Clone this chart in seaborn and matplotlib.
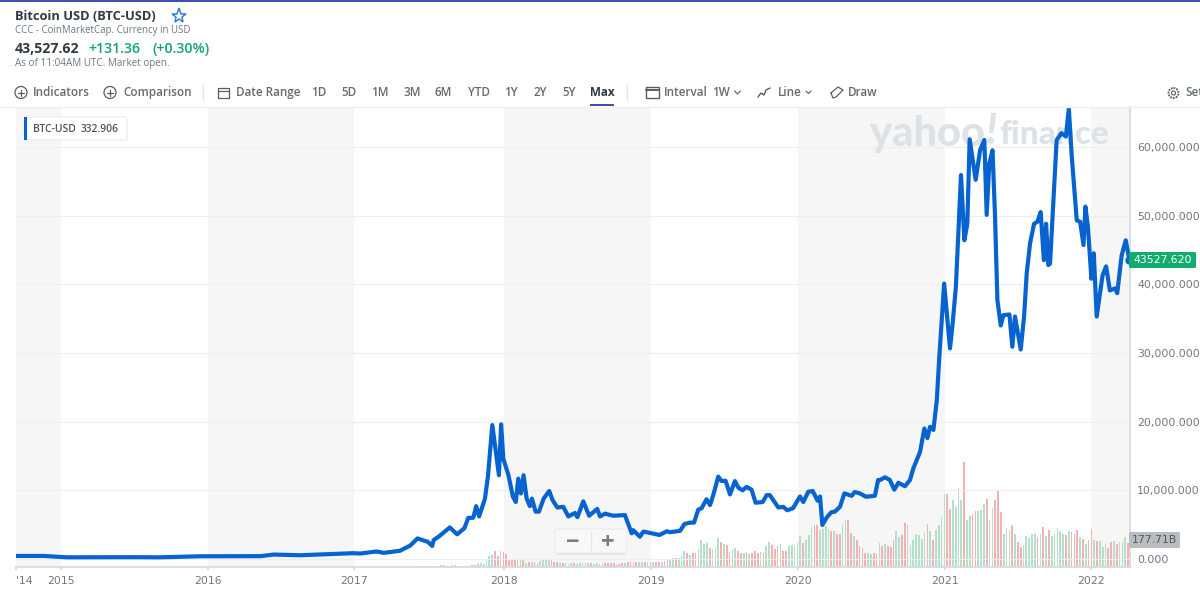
import numpy as np
import pandas as pd
import matplotlib.pyplot as plt
from matplotlib.patches import Circle, FancyBboxPatch, Rectangle
import seaborn as sns

# price, x in decimal years, y in thousands of USD
price_year = [2014.69, 2014.88, 2015.04, 2015.49, 2015.67, 2015.95, 2016.36, 2016.45, 2016.63, 2016.99,
              2017.04, 2017.15, 2017.20, 2017.31, 2017.38, 2017.43, 2017.50, 2017.53, 2017.54, 2017.58,
              2017.65, 2017.70, 2017.75, 2017.776, 2017.81, 2017.83, 2017.85, 2017.89, 2017.91, 2017.94,
              2017.985, 2018.0, 2018.015, 2018.05, 2018.08, 2018.10, 2018.117, 2018.135, 2018.153, 2018.174,
              2018.196, 2018.21, 2018.235, 2018.258, 2018.29, 2018.328, 2018.35, 2018.383, 2018.424, 2018.458,
              2018.503, 2018.52, 2018.56, 2018.60, 2018.655, 2018.674, 2018.708, 2018.765, 2018.844, 2018.89,
              2018.90, 2018.946, 2018.97, 2019.08, 2019.13, 2019.15, 2019.22, 2019.25, 2019.287, 2019.315,
              2019.344, 2019.367, 2019.40, 2019.424, 2019.446, 2019.48, 2019.503, 2019.53, 2019.56, 2019.594,
              2019.617, 2019.646, 2019.673, 2019.707, 2019.735, 2019.783, 2019.81, 2019.832, 2019.89, 2019.923,
              2019.95, 2019.99, 2020.037, 2020.06, 2020.094, 2020.124, 2020.157, 2020.174, 2020.19, 2020.22,
              2020.25, 2020.275, 2020.31, 2020.34, 2020.39, 2020.41, 2020.446, 2020.487, 2020.548, 2020.57,
              2020.583, 2020.617, 2020.65, 2020.68, 2020.708, 2020.753, 2020.787, 2020.81, 2020.856, 2020.885,
              2020.906, 2020.924, 2020.947, 2020.97, 2020.987, 2021.02, 2021.06, 2021.078, 2021.10, 2021.135,
              2021.158, 2021.178, 2021.194, 2021.235, 2021.265, 2021.294, 2021.31, 2021.328, 2021.35, 2021.367,
              2021.383, 2021.406, 2021.424, 2021.465, 2021.485, 2021.503, 2021.542, 2021.565, 2021.583, 2021.606,
              2021.633, 2021.656, 2021.678, 2021.70, 2021.715, 2021.73, 2021.742, 2021.765, 2021.787, 2021.82,
              2021.85, 2021.87, 2021.89, 2021.924, 2021.947, 2021.97, 2021.983, 2022.0, 2022.024, 2022.04,
              2022.06, 2022.10, 2022.124, 2022.15, 2022.185, 2022.20, 2022.23, 2022.258, 2022.283]
price_k = [0.45, 0.45, 0.25, 0.27, 0.25, 0.40, 0.42, 0.65, 0.55, 0.85,
           0.80, 1.10, 0.90, 1.20, 1.95, 3.00, 2.50, 1.90, 2.75, 3.35,
           4.60, 3.60, 4.50, 6.00, 6.00, 7.70, 6.20, 8.80, 12.0, 19.5,
           12.2, 19.6, 14.6, 12.2, 9.10, 8.30, 11.7, 9.55, 12.2, 8.80,
           7.70, 8.80, 6.90, 6.90, 8.80, 9.90, 8.60, 7.50, 7.60, 6.20,
           6.70, 6.10, 8.40, 6.30, 7.30, 6.20, 6.60, 6.30, 6.40, 3.75,
           4.20, 3.25, 4.00, 3.50, 4.05, 3.90, 4.10, 5.10, 5.30, 5.30,
           7.20, 7.40, 8.70, 7.85, 9.30, 12.0, 11.35, 11.4, 9.40, 11.35,
           10.4, 10.0, 10.5, 10.1, 8.20, 8.30, 9.30, 9.30, 7.50, 7.60,
           7.10, 7.40, 9.10, 8.30, 9.80, 9.90, 8.50, 9.10, 4.95, 6.06,
           6.80, 6.90, 7.60, 9.55, 9.20, 9.75, 9.55, 9.07, 9.20, 11.5,
           11.5, 11.9, 11.5, 10.1, 11.1, 10.6, 11.5, 13.2, 15.6, 19.0,
           17.6, 19.25, 18.8, 23.1, 29.4, 40.1, 30.65, 34.3, 39.6, 55.9,
           46.4, 48.8, 61.1, 55.2, 59.5, 61.0, 50.1, 57.6, 59.5, 49.8,
           37.7, 34.0, 35.5, 35.6, 30.9, 35.3, 30.5, 35.3, 41.6, 46.0,
           48.8, 49.1, 50.5, 43.5, 48.8, 42.8, 43.0, 52.2, 61.0, 62.0,
           61.5, 65.6, 58.6, 49.3, 49.1, 45.7, 51.3, 48.4, 40.8, 44.5,
           35.3, 41.3, 42.6, 39.1, 39.4, 38.7, 44.2, 46.4, 43.5]

# weekly volume in billions and direction of each week, r = down, g = up
volume_b = [6, 5, 7, 5, 8, 6, 7,
            12, 15, 10, 10, 12, 12, 5, 5, 5, 10,
            10, 12, 15, 25, 30, 25, 49, 84, 89, 116,
            84, 116, 109, 99, 62, 57, 62, 49, 52, 49,
            32, 40, 35, 35, 30, 44, 49, 57, 54, 49,
            40, 35, 32, 30, 30, 25, 27, 30, 25, 32,
            32, 30, 32, 27, 25, 30, 20, 25, 32, 30,
            27, 27, 25, 25, 27, 32, 35, 35, 40, 37,
            40, 35, 35, 35, 35, 35, 35, 35, 35, 44,
            54, 59, 64, 69, 64, 79, 116, 104, 86, 101,
            104, 136, 203, 168, 178, 143, 131, 138, 217, 188,
            173, 165, 111, 124, 143, 116, 106, 106, 111, 99,
            101, 121, 104, 111, 101, 156, 188, 163, 136, 156,
            173, 119, 116, 158, 163, 156, 180, 230, 178, 203,
            235, 296, 311, 311, 277, 284, 301, 284, 267, 264,
            247, 247, 316, 351, 351, 254, 230, 198, 156, 141,
            106, 104, 99, 106, 99, 180,
            156, 168, 158, 148, 203, 264, 222, 235, 329, 309,
            165, 203, 242, 237, 210, 259, 316, 264, 198, 272,
            309, 371, 543, 543, 432, 499, 445, 585, 499, 778,
            346, 378, 390, 412, 412, 420, 464, 504, 346, 437,
            494, 561, 405, 247, 291, 277, 309, 242, 183, 148,
            161, 230, 215, 245, 245, 222, 247, 296, 230, 272,
            230, 247, 291, 264, 247, 235, 264, 257, 242, 272,
            222, 210, 173, 198, 284, 203, 190, 190, 148, 173,
            141, 185, 190, 173, 183, 185, 222, 178]
volume_dir = list("ggrgrgg"
                  "ggggrrgggg" "ggrrgggggr" "rgrrrrrggr" "grgrrggggr" "rrgrgggrgg"
                  "gggrggrgrr" "rrgrrgrrgr" "ggrgrgrrgr" "rggrgggrgr" "rggggrgggr"
                  "grrggrrgrg" "rrrgrggrrr" "grrgggggrg" "ggrrggggrg" "rrggrrgrrr" "rggrrg"
                  "rgrrrggrrg" "ggggggrgrg" "gggrrggggr" "ggrrgggrgg" "rrrgggrgrr"
                  "gggggrgrgr" "gggggrgrrr" "grgrrgrggg" "rrgrgggr")
# tick places on the time axis, the years after 2017 sit slightly wide of an even step
year_ticks = [2015, 2016, 2017, 2018.02, 2019.02, 2020.025, 2021.024, 2022.02]
year_labels = ["2015", "2016", "2017", "2018", "2019", "2020", "2021", "2022"]
shaded_years = [(2014.69, 2015), (2016, 2017), (2018.02, 2019.02), (2020.025, 2021.024), (2022.02, 2022.287)]
price_ticks = [0, 10000, 20000, 30000, 40000, 50000, 60000]
ranges = [("1D", 319), ("5D", 349), ("1M", 380), ("3M", 412), ("6M", 443), ("YTD", 479), ("1Y", 511), ("2Y", 540), ("5Y", 569)]

volume_year = 2022.274 - np.arange(len(volume_b))[::-1] / 51.9
df = pd.DataFrame({"year": price_year, "price": np.array(price_k) * 1000})
vol = pd.DataFrame({"year": volume_year, "volume": volume_b, "dir": volume_dir})

sns.set_theme(style="white")
plt.rcParams["font.family"] = ["Open Sans", "DejaVu Sans"]
BLUE = "#0763cf"
GRAY = "#6e7780"
DARK = "#2f3a44"
TOOL = "#626a72"
MARK = "#dde2e7"

fig = plt.figure(figsize=(12, 6.09), dpi=100)
ax = fig.add_axes([16 / 1200, 42 / 609, 1114 / 1200, 460 / 609])
ax2 = ax.twinx()
ax.set_zorder(2)
ax2.set_zorder(1)
ax.patch.set_visible(False)

# bands and volume go on the lower axes
for a, b in shaded_years:
    ax2.axvspan(a, b, color="#f6f6f6", lw=0, zorder=0)
sns.barplot(data=vol, x="year", y="volume", hue="dir", palette={"g": "#ade6cc", "r": "#ffa6aa"},
            native_scale=True, dodge=False, legend=False, errorbar=None, width=0.6,
            linewidth=0, ax=ax2, zorder=2)
ax2.set_ylim(0, 3404)
ax2.set_yticks([])
ax2.set_ylabel("")

ax.text(0.767, 0.941, "yahoo", transform=ax.transAxes, fontsize=30, fontfamily="Lato", fontweight=900, color=MARK, ha="left", va="center", zorder=1)
ax.text(0.871, 0.945, "!", transform=ax.transAxes, fontsize=30, fontfamily="Lato", fontweight=900, style="italic", color=MARK, ha="left", va="center", zorder=1)
ax.text(0.883, 0.941, "finance", transform=ax.transAxes, fontsize=24, fontfamily="Lato", fontweight=900, color=MARK, ha="left", va="center", zorder=1)

sns.lineplot(data=df, x="year", y="price", color=BLUE, lw=3.0, ax=ax, zorder=3, errorbar=None)
ax.plot(price_year[-1], 43527.62, "o", color=BLUE, ms=5, zorder=4, clip_on=False)

ax.set_xlim(2014.693, 2022.287)
ax.set_ylim(-1160, 65800)
ax.grid(True, axis="y", color="#eeeeee", lw=0.8)
ax.set_axisbelow(True)
ax.yaxis.tick_right()
ax.set_yticks(price_ticks)
ax.set_yticklabels([f"{v:,.3f}" for v in price_ticks], fontfamily="DejaVu Sans", fontsize=7.8, color=GRAY)
ax.set_xticks([2014.693] + year_ticks)
ax.set_xticklabels(["'14"] + year_labels, fontfamily="DejaVu Sans", fontsize=7.8, color=GRAY)
ax.get_xticklabels()[0].set_ha("left")
ax.tick_params(axis="x", length=2.5, color="#d5d8db", pad=4, bottom=True)
ax.tick_params(axis="y", length=0, pad=5, right=True)
ax.set_xlabel("")
ax.set_ylabel("")
for name, sp in ax.spines.items():
    sp.set_visible(name in ("right", "bottom"))
    sp.set_color("#d5d8db")
    sp.set_linewidth(1.2)
for sp in ax2.spines.values():
    sp.set_visible(False)

# page furniture, drawn in pixel coordinates on a full figure layer
ui = fig.add_axes([0, 0, 1, 1], zorder=5)
ui.set_xlim(0, 1200)
ui.set_ylim(609, 0)
ui.axis("off")


def label(x, y, s, size=8.4, color=GRAY, weight="normal", ha="left"):
    # y is the middle of the capitals
    ui.text(x, y + size * 0.496, s, fontsize=size, color=color, fontweight=weight, ha=ha, va="baseline")


ui.add_patch(Rectangle((0, 0), 1200, 1.8, color="#3f4fb5", lw=0))
ui.plot([0, 1200], [106.5, 106.5], color="#eef0f1", lw=1)

label(15, 15, "Bitcoin USD (BTC-USD)", 9.3, DARK, "bold")
ui.plot(179, 16, marker="*", ms=11, mfc="white", mec="#2f7fe0", mew=1.1)
label(15, 30, "CCC - CoinMarketCap. Currency in USD", 6.9, GRAY)
label(15, 48, "43,527.62", 10.2, DARK, "bold")
label(88, 48, "+131.36", 10.2, "#12a56c", "semibold")
label(152, 48, "(+0.30%)", 10.2, "#12a56c", "semibold")
label(15, 62, "As of 11:04AM UTC. Market open.", 7.1, GRAY)

# toolbar
for cx in (21, 110):
    ui.add_patch(Circle((cx, 92.5), 6, fill=False, ec="#555d66", lw=0.9))
    ui.plot([cx - 3, cx + 3], [92.5, 92.5], color="#555d66", lw=0.9)
    ui.plot([cx, cx], [89.5, 95.5], color="#555d66", lw=0.9)
label(33, 92, "Indicators", 8.4, TOOL, "semibold")
label(123, 92, "Comparison", 8.4, TOOL, "semibold")
for sx in (203, 627):
    ui.plot([sx, sx], [85, 100], color="#e3e5e7", lw=1)
ui.add_patch(Rectangle((218, 87.5), 11, 10, fill=False, ec="#555d66", lw=0.9))
ui.plot([218, 229], [90.8, 90.8], color="#555d66", lw=0.9)
label(236, 92, "Date Range", 8.4, TOOL, "semibold")
for s, cx in ranges:
    label(cx, 92, s, 8.4, TOOL, "semibold", "center")
label(602, 92, "Max", 8.4, DARK, "bold", "center")
ui.add_patch(Rectangle((590, 104), 24, 2.2, color="#3f4fb5", lw=0))

ui.add_patch(Rectangle((646, 87), 13, 11, fill=False, ec="#555d66", lw=1))
ui.plot([646, 659], [89.5, 89.5], color="#555d66", lw=1.4)
label(664, 92, "Interval", 8.4, TOOL, "semibold")
label(712, 92, "1W", 8.4, TOOL, "semibold")
ui.plot([734.5, 737.5, 740.5], [91, 94, 91], color="#555d66", lw=0.8)
ui.plot([758, 761, 764, 766, 770], [97, 93, 95, 90, 88], color="#555d66", lw=1)
label(778, 92, "Line", 8.4, TOOL, "semibold")
ui.plot([806, 808.5, 811], [91, 93.5, 91], color="#555d66", lw=0.8)
ui.plot([831, 838, 843, 836, 833, 831], [93, 87, 90, 97, 98, 93], color="#555d66", lw=0.9)
label(848, 92, "Draw", 8.4, TOOL, "semibold")
ui.add_patch(Circle((1173.5, 93), 5, fill=False, ec="#555d66", lw=1.3, ls=(0, (1, 0.6))))
ui.add_patch(Circle((1173.5, 93), 2, fill=False, ec="#555d66", lw=0.8))
label(1185, 92, "Set", 8.4, TOOL, "semibold")

# series chip
ui.add_patch(FancyBboxPatch((24, 117), 103, 23, boxstyle="round,pad=0,rounding_size=2", fc="white", ec="#eceef0", lw=1))
ui.add_patch(Rectangle((24, 117), 3, 23, color=BLUE, lw=0))
label(33, 128.5, "BTC-USD", 7.4, "#4d565f", "semibold")
label(81, 128.5, "332.906", 7.4, "#4d565f", "semibold")

# zoom control
ui.add_patch(FancyBboxPatch((555, 531), 72, 24, boxstyle="round,pad=0,rounding_size=3", fc="#e4e4e4", ec="none"))
ui.add_patch(FancyBboxPatch((555, 529), 72, 24, boxstyle="round,pad=0,rounding_size=3", fc="#f8f8f8", ec="#eeeeee", lw=1))
ui.plot([591, 591], [532, 550], color="#e6e6e6", lw=1)
ui.text(572.5, 540, "\u2212", fontsize=17, color="#7d7d7d", fontweight="bold", ha="center", va="center_baseline")
ui.text(608, 540, "+", fontsize=17, color="#7d7d7d", fontweight="bold", ha="center", va="center_baseline")

# price and volume tags
ui.add_patch(FancyBboxPatch((1129, 252), 67, 16, boxstyle="round,pad=0,rounding_size=1.5", fc="#12ad6e", ec="none"))
ui.text(1162.5, 260, "43527.620", fontsize=7.8, color="white", fontfamily="DejaVu Sans", ha="center", va="center")
ui.add_patch(FancyBboxPatch((1129, 532), 51, 16, boxstyle="round,pad=0,rounding_size=1.5", fc="#b9bdc2", ec="none"))
ui.text(1154.5, 540, "177.71B", fontsize=7.8, color="#50585f", fontfamily="DejaVu Sans", ha="center", va="center")

fig.savefig("out.png", dpi=100)
